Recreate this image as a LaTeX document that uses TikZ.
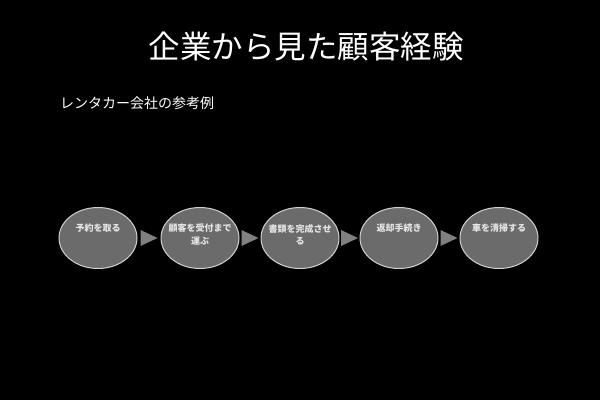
\documentclass[tikz,border=0pt]{standalone}
\usepackage{fontspec}
\newfontfamily\jp{Noto Sans CJK JP}
\setmainfont{Noto Sans CJK JP}
\usetikzlibrary{shapes.geometric,calc}
\begin{document}
\begin{tikzpicture}[x=1pt,y=-1pt,
  stepell/.style={ellipse,draw=black!18,line width=1pt,fill=black!58,minimum width=78pt,minimum height=61pt,inner sep=0pt},
  steptext/.style={anchor=north,align=center,text=black!10,font=\jp\bfseries\fontsize{9}{12.5}\selectfont,inner sep=0pt},
  arr/.style={fill=black!50,draw=none}]
\fill[black] (0,0) rectangle (600,400);
\useasboundingbox (0,0) rectangle (600,400);
\node[text=white,font=\jp\fontsize{31.5}{34}\selectfont,inner sep=0pt] (title) at (306,47) {企業から見た顧客経験};
\node[text=white,font=\jp\fontsize{14}{16}\selectfont,anchor=west,inner sep=0pt] (sub) at (60,103) {レンタカー会社の参考例};
\foreach \i/\x in {1/98,2/200,3/300,4/399,5/499}{
  \node[stepell] (e\i) at (\x,238) {};
}
\node[steptext] (t1) at (e1.center) [yshift=14pt] {予約を取る};
\node[steptext] (t2) at (e2.center) [yshift=14pt] {顧客を受付まで\\運ぶ};
\node[steptext] (t3) at (e3.center) [yshift=14pt] {書類を完成させ\\る};
\node[steptext] (t4) at (e4.center) [yshift=14pt] {返却手続き};
\node[steptext] (t5) at (e5.center) [yshift=14pt] {車を清掃する};
\foreach \a/\b in {1/2,2/3,3/4,4/5}{
  \coordinate (m\a) at ($(e\a.east)!0.5!(e\b.west)$);
  \fill[arr] ([xshift=-8.5pt,yshift=-8pt]m\a) -- ([xshift=8.5pt]m\a) -- ([xshift=-8.5pt,yshift=8pt]m\a) -- cycle;
}
\end{tikzpicture}
\end{document}
